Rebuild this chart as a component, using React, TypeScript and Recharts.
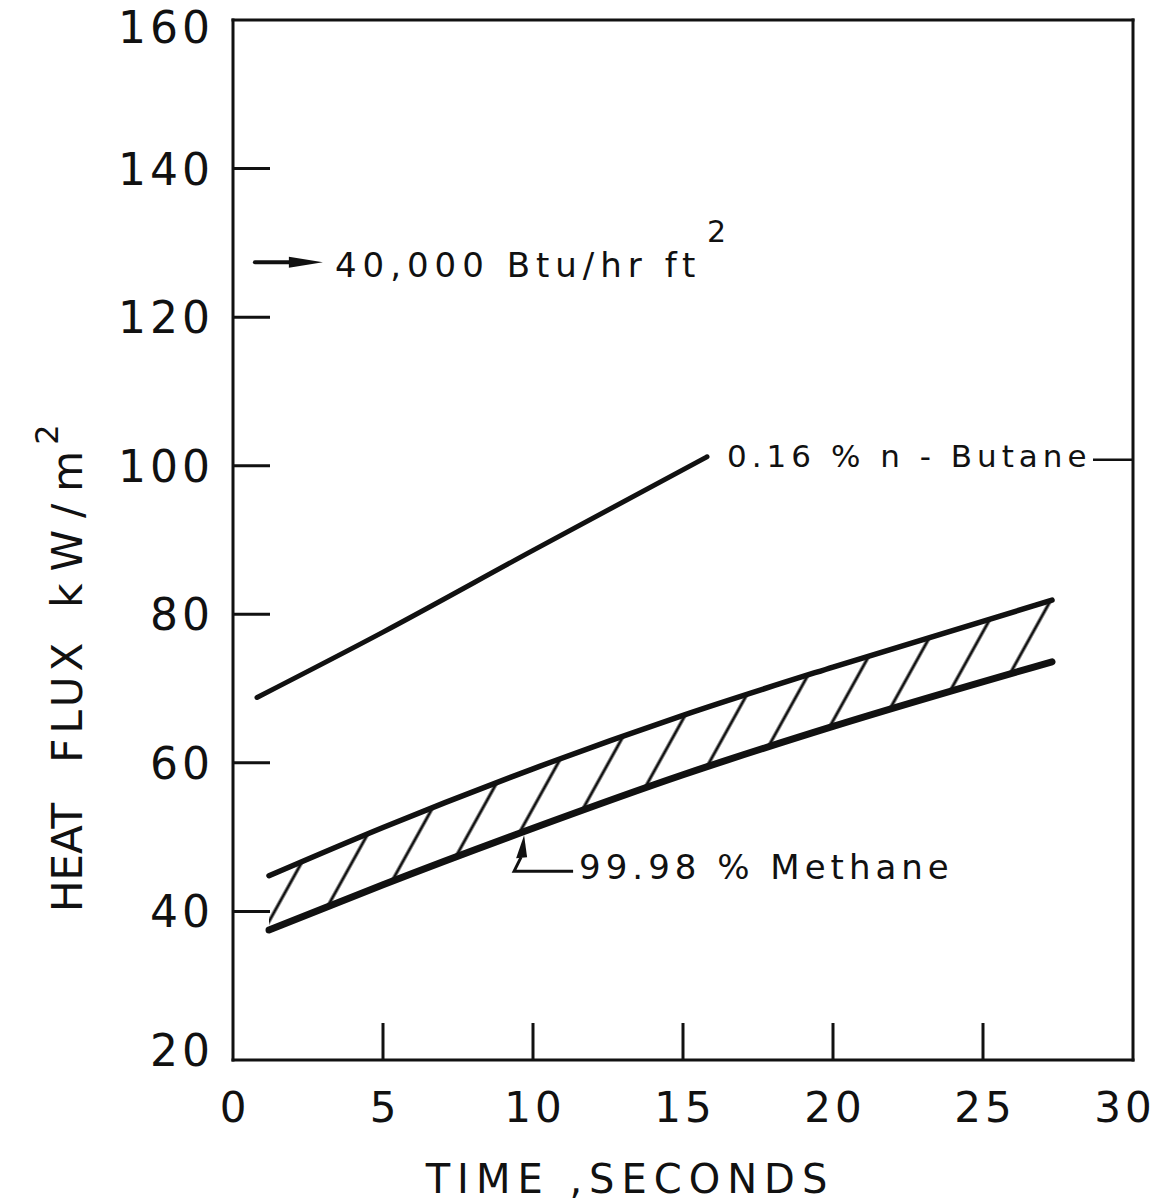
import { ComposedChart, Line, Area, XAxis, YAxis, ReferenceDot } from "recharts"

const TIME_TICKS = [0, 5, 10, 15, 20, 25, 30]
const FLUX_TICKS = [20, 40, 60, 80, 100, 120, 140, 160]

// 0.16 % n-Butane
const butaneTime = [0.8, 5, 10, 15.8]
const butaneFlux = [68.8, 77.6, 88.6, 101.2]

// 99.98 % Methane band (upper / lower bound)
const methaneTime = [1.2, 5, 10, 15, 20, 27.3]
const methaneHigh = [44.8, 51.3, 59.2, 66.4, 72.9, 81.9]
const methaneLow = [37.5, 43.6, 51.2, 58.4, 64.9, 73.6]

// annotation anchors (time, flux)
const btuArrow = { t: 0.73, flux: 127.4 }
const butaneEnd = { t: 15.8, flux: 101.2 }
const methanePointer = { t: 9.67, flux: 50.0 }

const INK = "#111"
const FONT = "'DejaVu Sans', sans-serif"
const TICK_LEN = 37

const butaneData = butaneTime.map((t, i) => ({ t, flux: butaneFlux[i] }))
const methaneData = methaneTime.map((t, i) => ({
  t,
  hi: methaneHigh[i],
  lo: methaneLow[i],
  band: [methaneLow[i], methaneHigh[i]],
}))

const isInner = (v: number, ticks: number[]) => v !== ticks[0] && v !== ticks[ticks.length - 1]

function BottomTick(p: any) {
  const v = p.payload.value
  // last label sits a little inside the frame, as on the original
  const shift = v === TIME_TICKS[TIME_TICKS.length - 1] ? -8 : 2
  return (
    <g>
      {isInner(v, TIME_TICKS) && (
        <line x1={p.x} y1={p.y} x2={p.x} y2={p.y - TICK_LEN} stroke={INK} strokeWidth={3} />
      )}
      <text x={p.x + shift} y={p.y + 62} textAnchor="middle" fontFamily={FONT} fontSize={42} letterSpacing={4} fill={INK}>
        {v}
      </text>
    </g>
  )
}

function TopTick(p: any) {
  const v = p.payload.value
  if (!isInner(v, TIME_TICKS)) return <g />
  return <line x1={p.x} y1={p.y} x2={p.x} y2={p.y + TICK_LEN} stroke={INK} strokeWidth={3} />
}

function LeftTick(p: any) {
  const v = p.payload.value
  const lift = v === FLUX_TICKS[0] ? -10 : v === FLUX_TICKS[FLUX_TICKS.length - 1] ? 7 : 0
  return (
    <g>
      {isInner(v, FLUX_TICKS) && (
        <line x1={p.x} y1={p.y} x2={p.x + TICK_LEN} y2={p.y} stroke={INK} strokeWidth={3} />
      )}
      <text x={p.x - 19} y={p.y + 16 + lift} textAnchor="end" fontFamily={FONT} fontSize={44} letterSpacing={4} fill={INK}>
        {v}
      </text>
    </g>
  )
}

function RightTick(p: any) {
  const v = p.payload.value
  if (!isInner(v, FLUX_TICKS)) return <g />
  return <line x1={p.x} y1={p.y} x2={p.x - TICK_LEN} y2={p.y} stroke={INK} strokeWidth={3} />
}

function BtuNote(p: any) {
  const { cx, cy } = p
  return (
    <g>
      <line x1={cx} y1={cy} x2={cx + 42} y2={cy} stroke={INK} strokeWidth={4} strokeLinecap="round" />
      <path d={`M${cx + 34},${cy - 5.5} L${cx + 68},${cy} L${cx + 34},${cy + 5.5} Z`} fill={INK} />
      <text x={cx + 80} y={cy + 15} fontFamily={FONT} fontSize={34} letterSpacing={6} fill={INK}>
        40,000 Btu/hr ft
      </text>
      <text x={cx + 452} y={cy - 20} fontFamily={FONT} fontSize={30} fill={INK}>
        2
      </text>
    </g>
  )
}

function ButaneNote(p: any) {
  const { cx, cy } = p
  return (
    <g>
      <text x={cx + 20} y={cy + 10} fontFamily={FONT} fontSize={31} letterSpacing={5} fill={INK}>
        0.16 % n - Butane
      </text>
      <line x1={cx + 386} y1={cy + 3} x2={cx + 426} y2={cy + 3} stroke={INK} strokeWidth={2.5} />
    </g>
  )
}

function MethaneNote(p: any) {
  const { cx, cy } = p
  return (
    <g>
      <path d={`M${cx + 1},${cy - 2} L${cx + 4},${cy + 20} L${cx - 7},${cy + 21} Z`} fill={INK} />
      <polyline
        points={`${cx - 2},${cy + 20} ${cx - 9},${cy + 34} ${cx + 50},${cy + 34}`}
        fill="none"
        stroke={INK}
        strokeWidth={3}
      />
      <text x={cx + 56} y={cy + 42} fontFamily={FONT} fontSize={34} letterSpacing={5} fill={INK}>
        99.98 % Methane
      </text>
    </g>
  )
}

function FluxLabel() {
  return (
    <text x={82} y={912} transform="rotate(-90, 82, 912)" fontFamily={FONT} fontSize={42} fill={INK}>
      <tspan>HEAT</tspan>
      <tspan dx={40} letterSpacing={5}>FLUX</tspan>
      <tspan dx={30} letterSpacing={12}>kW/m</tspan>
      <tspan dx={-6} dy={-24} fontSize={32}>2</tspan>
    </text>
  )
}

function TimeLabel(p: any) {
  const vb = p.viewBox || { x: 233, y: 1060, width: 900, height: 143 }
  return (
    <text
      x={vb.x + vb.width / 2 - 53}
      y={1193}
      textAnchor="middle"
      fontFamily={FONT}
      fontSize={40}
      letterSpacing={7}
      fill={INK}
    >
      TIME ,SECONDS
    </text>
  )
}

export default function App() {
  const axisLine = { stroke: INK, strokeWidth: 3, strokeLinecap: "square" as const }
  return (
    <div style={{ position: "absolute", left: 0, top: 0, background: "#fff" }}>
      <ComposedChart width={1164} height={1203} margin={{ top: 0, right: 0, bottom: 0, left: 0 }}>
        <defs>
          <pattern id="hatch" patternUnits="userSpaceOnUse" width={44} height={44} patternTransform="rotate(29)">
            <line x1={22} y1={0} x2={22} y2={44} stroke={INK} strokeWidth={3} />
          </pattern>
        </defs>
        <XAxis
          xAxisId="b"
          dataKey="t"
          type="number"
          domain={[0, 30]}
          ticks={TIME_TICKS}
          height={143}
          tickSize={0}
          tickMargin={0}
          tickLine={false}
          axisLine={axisLine}
          tick={(p: any) => <BottomTick {...p} />}
          interval={0}
          label={(p: any) => <TimeLabel {...p} />}
        />
        <XAxis
          xAxisId="t"
          dataKey="t"
          type="number"
          orientation="top"
          domain={[0, 30]}
          ticks={TIME_TICKS}
          height={20}
          tickSize={0}
          tickMargin={0}
          tickLine={false}
          axisLine={axisLine}
          tick={(p: any) => <TopTick {...p} />}
          interval={0}
        />
        <YAxis
          yAxisId="l"
          type="number"
          domain={[20, 160]}
          ticks={FLUX_TICKS}
          width={233}
          tickSize={0}
          tickMargin={0}
          tickLine={false}
          axisLine={axisLine}
          tick={(p: any) => <LeftTick {...p} />}
          interval={0}
          label={<FluxLabel />}
        />
        <YAxis
          yAxisId="r"
          orientation="right"
          type="number"
          domain={[20, 160]}
          ticks={FLUX_TICKS}
          width={31}
          tickSize={0}
          tickMargin={0}
          tickLine={false}
          axisLine={axisLine}
          tick={(p: any) => <RightTick {...p} />}
          interval={0}
        />

        <Area
          xAxisId="b"
          yAxisId="l"
          data={methaneData}
          dataKey="band"
          type="monotone"
          stroke="none"
          fill="url(#hatch)"
          fillOpacity={1}
          isAnimationActive={false}
        />
        <Line
          xAxisId="b"
          yAxisId="l"
          data={methaneData}
          dataKey="hi"
          type="monotone"
          stroke={INK}
          strokeWidth={5.5}
          strokeLinecap="round"
          dot={false}
          isAnimationActive={false}
        />
        <Line
          xAxisId="b"
          yAxisId="l"
          data={methaneData}
          dataKey="lo"
          type="monotone"
          stroke={INK}
          strokeWidth={7}
          strokeLinecap="round"
          dot={false}
          isAnimationActive={false}
        />
        <Line
          xAxisId="b"
          yAxisId="l"
          data={butaneData}
          dataKey="flux"
          type="monotone"
          stroke={INK}
          strokeWidth={5}
          strokeLinecap="round"
          dot={false}
          isAnimationActive={false}
        />

        <ReferenceDot xAxisId="b" yAxisId="l" x={btuArrow.t} y={btuArrow.flux} r={0} shape={(p: any) => <BtuNote {...p} />} />
        <ReferenceDot xAxisId="b" yAxisId="l" x={butaneEnd.t} y={butaneEnd.flux} r={0} shape={(p: any) => <ButaneNote {...p} />} />
        <ReferenceDot
          xAxisId="b"
          yAxisId="l"
          x={methanePointer.t}
          y={methanePointer.flux}
          r={0}
          shape={(p: any) => <MethaneNote {...p} />}
        />
      </ComposedChart>
    </div>
  )
}
